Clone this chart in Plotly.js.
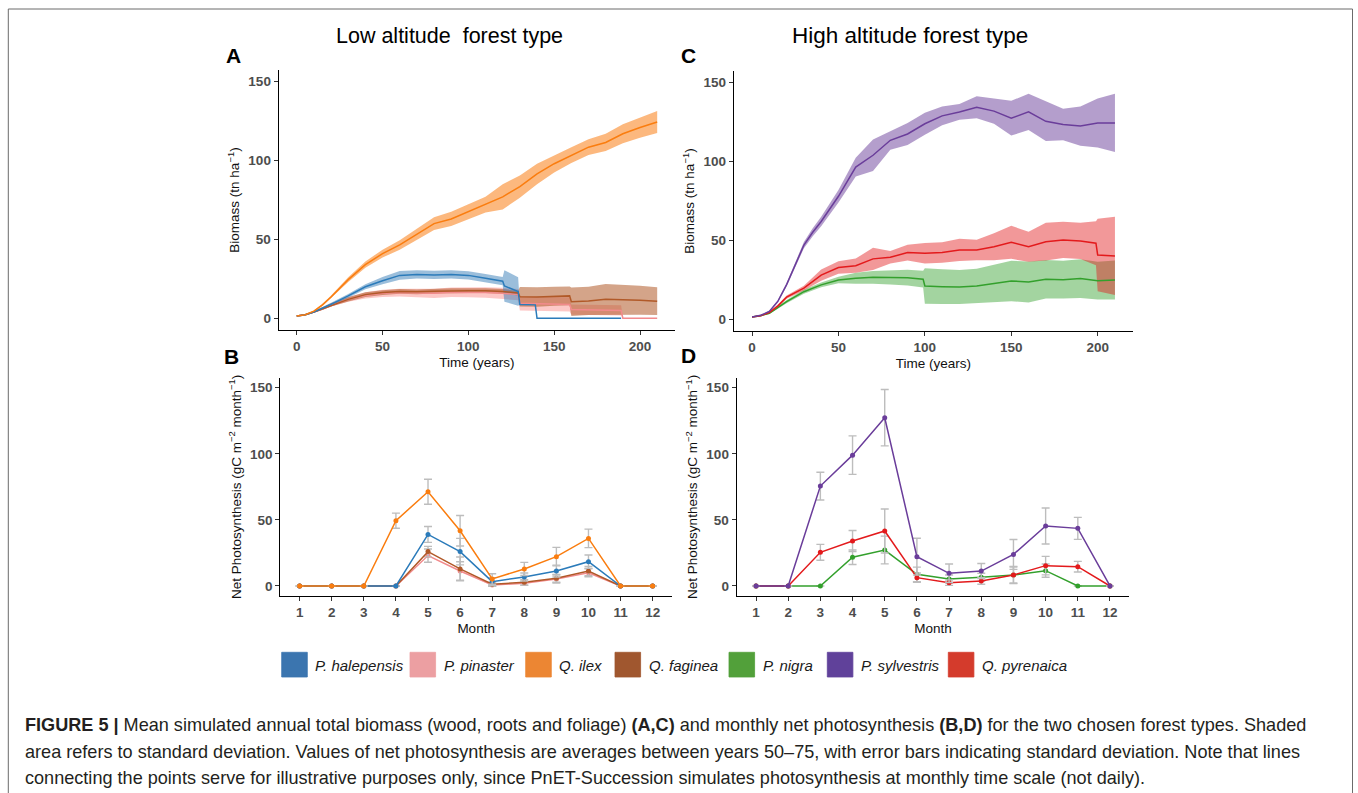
<!DOCTYPE html>
<html>
<head>
<meta charset="utf-8">
<script src="https://cdn.plot.ly/plotly-3.0.1.min.js"></script>
<style>html,body{margin:0;padding:0;background:#fff;}#chart{width:1358px;height:793px;}</style>
</head>
<body>
<div id="chart"></div>
<script>
// ---------- Panel A : low altitude biomass (tn/ha) ----------
const yearsIlex = [0,5,10,15,20,30,40,50,60,70,80,90,100,110,120,130,140,150,160,170,180,190,200,210];
const meanIlex  = [1.5,2.3,4.5,8.5,13.5,24.5,34,41,46.5,53,60,63,67.5,72,77,83.5,91.5,98,103.5,108.5,111.5,117,121,124.5];
const sdIlex    = [0.2,0.3,0.5,0.7,1,1.5,2,2.5,3,3.5,4,4.5,5,5,8,7,6.5,5.5,5,5,5.5,6,6.5,7];

const yearsHal = [0,5,10,15,20,30,40,50,60,70,80,90,100,110,120,121,129,130,139,140,150,160,170,180,189];
const meanHal  = [1.5,2.3,4,6.3,8.8,14.2,20,23.8,27.2,27.8,27.5,27.8,27.2,25.4,23.5,20.5,17,8.8,8.5,0,0,0,0,0,0];
const sdHal    = [0.2,0.3,0.5,0.7,1,1.2,1.6,2.3,2.8,2.6,2.6,2.6,2.6,2.6,2.6,10,9,0,0,0,0,0,0,0,0];

const yearsFag = [0,5,10,15,20,30,40,50,60,70,80,90,100,110,120,129,130,140,150,159,160,170,180,190,200,210];
const meanFag  = [1.5,2.3,4,6,8.5,12,15,16.3,17,16.8,17.2,17.5,17.5,17.5,17,16,13.7,13.5,14,14.2,10.5,11,12,11.8,11.5,10.8];
const sdFag    = [0.2,0.3,0.5,0.8,1,1.3,1.5,1.5,1.5,1.5,1.5,1.5,1.5,1.5,1.5,1.5,6.2,6.2,6,6,9,9,9.8,9.5,9.2,8.8];

const yearsPin = [0,5,10,15,20,30,40,50,60,70,80,90,100,110,120,129,130,140,150,159,160,170,180,189,190,200,210];
const meanPin  = [1.5,2.3,4,6,8.5,12,14.5,15.8,16.3,16,15.8,16.5,16.5,16.3,15.8,15,9.5,9.2,9,8.8,5.5,5.3,5.2,5,0,0,0];
const sdPin    = [0.2,0.3,0.5,0.8,1,1.5,2,2.3,2.5,2.8,3,3,3.2,3.3,3.5,3.5,4.5,4.5,4.5,4.5,3.2,3.2,3.2,3.2,0,0,0];

// ---------- Panel C : high altitude biomass (tn/ha) ----------
const yearsSyl = [0,5,10,15,20,25,30,35,40,50,60,70,80,90,100,110,120,130,140,150,160,170,180,190,200,210];
const meanSyl  = [1.5,2.5,5,11.5,22,34.5,47,55,62,78,96.5,104,113.5,117.5,124,129,131.5,134.5,132,127.5,131.5,125.5,123.5,122.5,124.5,124.5];
const sdSyl    = [0.2,0.3,0.5,0.8,1,1.5,2,2.5,3,4,6,10,6,7,7,6,5,7,8,11,11.5,12.5,10,12.5,15.5,18.5];

const yearsPyr = [0,5,10,15,20,30,40,50,60,70,80,90,100,110,120,130,140,150,160,170,180,190,199,200,210];
const meanPyr  = [1.5,2.3,4.2,8.5,14,19.7,28,32.8,34,38.3,39.3,42.3,41.8,42.3,44,44,46,48.8,46,49.2,50.3,49.7,48.2,40.8,40.2];
const sdPyr    = [0.2,0.3,0.5,0.8,1,1.5,3.5,4,4.5,7,4,5,6.5,6.5,7,6.5,8.5,10.5,9.5,12,11.5,11.5,14,23,24.8];

const yearsNig = [0,5,10,15,20,30,40,50,60,70,80,90,99,100,110,120,130,140,150,160,170,180,190,200,210];
const meanNig  = [1.5,2.3,3.8,7.5,11.2,17.5,21.8,24.9,26,26.6,26.6,26.4,25.4,21.1,20.7,20.5,21.1,22.8,24.3,23.7,25.4,25.1,25.8,24.5,24.9];
const sdNig    = [0.2,0.3,0.5,0.8,1,1.3,1.5,2,3.5,4,4.5,5,5.3,11.3,11,10.8,11,11.8,12.8,13,12.2,12,12.3,12,12.4];

// ---------- Panels B, D : monthly net photosynthesis ----------
const months = [1,2,3,4,5,6,7,8,9,10,11,12];
const npIlex   = [0,0,0,49.4,71.3,41.8,5.3,12.9,22.2,36,0,0];
const npIlexSd = [null,null,null,5.7,9.5,11.5,4,5,7,7,null,null];
const npHal    = [0,0,0,0,39,26,3.3,6.8,11.3,18.4,0,0];
const npHalSd  = [null,null,null,null,6,10,3,3,4.5,5,null,null];
const npFag    = [0,0,0,0,26,12.9,1.3,2.8,5.8,11.3,0,0];
const npFagSd  = [null,null,null,null,4,9,1.5,2,3,3.5,null,null];
const npPin    = [0,0,0,0,23,11.3,0.8,2,5.3,10,0,0];
const npPinSd  = [null,null,null,null,5,7,1,1.5,3,3,null,null];

const npSyl    = [0,0,75.6,99,127.3,22.2,9.6,11.3,23.9,45.4,43.6,0];
const npSylSd  = [null,null,10.5,14.6,21.3,13.9,7,5.7,11.3,13.6,8.3,null];
const npPyr    = [0,0,25.5,34,41.6,6.3,2.5,3.8,8.3,15.4,14.6,0];
const npPyrSd  = [null,null,6,8,16.6,3.5,2,2.5,6,7,4,null];
const npNig    = [0,0,0,21.7,27.2,8.8,5.3,6.6,8.3,11.6,0,0];
const npNigSd  = [null,null,null,5.5,10.5,5.5,3,3,6.5,5,null,null];

// ---------- legend / labels ----------
const speciesNames = ["P. halepensis","P. pinaster","Q. ilex","Q. faginea","P. nigra","P. sylvestris","Q. pyrenaica"];
const legendColors = ["#3B75AF","#EC9FA2","#EC8633","#A0572F","#52A03A","#60419A","#D43B2C"];
const yearTicks = [0,50,100,150,200];
const valueTicks = [0,50,100,150];

// styles
const col = {
  hal:{line:"#2B7BBA", fill:"rgba(55,126,184,0.5)"},
  pin:{line:"#F28A8C", fill:"rgba(251,154,153,0.55)"},
  ilex:{line:"#FA7D0F", fill:"rgba(250,125,20,0.55)"},
  fag:{line:"#B15928", fill:"rgba(177,89,40,0.55)"},
  nig:{line:"#33A02C", fill:"rgba(51,160,44,0.45)"},
  syl:{line:"#6A3D9A", fill:"rgba(106,61,154,0.5)"},
  pyr:{line:"#E31A1C", fill:"rgba(227,26,28,0.45)"}
};

function band(xs, m, s, c, xa, ya){
  const up = m.map((v,i)=>v+s[i]);
  const lo = m.map((v,i)=>Math.max(0,v-s[i]));
  return {x: xs.concat(xs.slice().reverse()), y: up.concat(lo.slice().reverse()),
    type:'scatter', mode:'lines', fill:'toself', fillcolor:c.fill, line:{width:0,color:c.fill},
    hoverinfo:'skip', xaxis:xa, yaxis:ya};
}
function meanLine(xs, m, c, xa, ya){
  return {x:xs, y:m, type:'scatter', mode:'lines', line:{color:c.line, width:1.5}, xaxis:xa, yaxis:ya};
}
function npLine(m, sd, c, xa, ya){
  return {x:months, y:m, type:'scatter', mode:'lines+markers',
    line:{color:c.line, width:1.5}, marker:{color:c.line, size:5},
    error_y:{type:'data', array:sd, visible:true, color:'#BDBDBD', thickness:1.4, width:4},
    xaxis:xa, yaxis:ya};
}

const traces = [
  band(yearsPin, meanPin, sdPin, col.pin, 'x','y'),
  band(yearsFag, meanFag, sdFag, col.fag, 'x','y'),
  band(yearsHal, meanHal, sdHal, col.hal, 'x','y'),
  band(yearsIlex, meanIlex, sdIlex, col.ilex, 'x','y'),
  meanLine(yearsPin, meanPin, col.pin, 'x','y'),
  meanLine(yearsFag, meanFag, col.fag, 'x','y'),
  meanLine(yearsHal, meanHal, col.hal, 'x','y'),
  meanLine(yearsIlex, meanIlex, col.ilex, 'x','y'),

  band(yearsNig, meanNig, sdNig, col.nig, 'x2','y2'),
  band(yearsPyr, meanPyr, sdPyr, col.pyr, 'x2','y2'),
  band(yearsSyl, meanSyl, sdSyl, col.syl, 'x2','y2'),
  meanLine(yearsNig, meanNig, col.nig, 'x2','y2'),
  meanLine(yearsPyr, meanPyr, col.pyr, 'x2','y2'),
  meanLine(yearsSyl, meanSyl, col.syl, 'x2','y2'),

  npLine(npPin, npPinSd, col.pin, 'x3','y3'),
  npLine(npFag, npFagSd, col.fag, 'x3','y3'),
  npLine(npHal, npHalSd, col.hal, 'x3','y3'),
  npLine(npIlex, npIlexSd, col.ilex, 'x3','y3'),

  npLine(npNig, npNigSd, col.nig, 'x4','y4'),
  npLine(npPyr, npPyrSd, col.pyr, 'x4','y4'),
  npLine(npSyl, npSylSd, col.syl, 'x4','y4')
];

const W = 1358, H = 793;
const px = v => v / W;
const py = v => 1 - v / H;
const FONT = "Liberation Sans, Arial, Helvetica, sans-serif";
const tickFont = {family:FONT, size:13.5, color:'#4D4D4D', weight:'bold'};
const titleFont = {family:FONT, size:13.5, color:'#111'};

function axis(dom, range, tv, title, standoff, anchor){
  return {domain:dom, range:range, tickvals:tv, ticktext:tv.map(String), showgrid:false, zeroline:false,
    showline:true, linecolor:'#000', linewidth:1.1, ticks:'outside', ticklen:4, tickwidth:1, tickcolor:'#333',
    tickfont:tickFont, anchor:anchor, fixedrange:true,
    title:{text:title, font:titleFont, standoff:standoff}};
}

const bioTitle = "Biomass (tn ha<sup>\u22121</sup>)";
const npTitle = "Net Photosynthesis (gC m<sup>\u22122</sup> month<sup>\u22121</sup>)";

const layout = {
  width:W, height:H, margin:{l:0,r:0,t:0,b:0}, paper_bgcolor:'#fff', plot_bgcolor:'rgba(0,0,0,0)',
  showlegend:false, font:{family:FONT},
  xaxis:  axis([px(278.7),px(675.2)], [-10.5,220.5], yearTicks, "Time (years)", 4, 'y'),
  yaxis:  axis([py(330.1),py(69.9)], [-7.5,157.5], valueTicks, bioTitle, 5, 'x'),
  xaxis2: axis([px(733.9),px(1133.1)], [-10.5,220.5], yearTicks, "Time (years)", 4, 'y2'),
  yaxis2: axis([py(331.1),py(70.9)], [-7.5,157.5], valueTicks, bioTitle, 5, 'x2'),
  xaxis3: axis([px(280.4),px(671.9)], [0.4,12.6], months, "Month", 4, 'y3'),
  yaxis3: axis([py(595.9),py(377.8)], [-7.5,157.5], valueTicks, npTitle, 5, 'x3'),
  xaxis4: axis([px(736.7),px(1129.3)], [0.4,12.6], months, "Month", 4, 'y4'),
  yaxis4: axis([py(595.9),py(377.8)], [-7.5,157.5], valueTicks, npTitle, 5, 'x4'),
  annotations:[], shapes:[]
};

// panel titles and letters
function ann(x, y, text, font, opts){
  return Object.assign({xref:'paper', yref:'paper', x:px(x), y:py(y), text:text, showarrow:false,
    font:font, xanchor:'center', yanchor:'middle'}, opts||{});
}
layout.annotations.push(ann(449, 36, "Low altitude\u00a0 forest type", {family:FONT, size:21.5, color:'#000'}));
layout.annotations.push(ann(910.5, 36, "High altitude forest type", {family:FONT, size:22.5, color:'#000'}));
const letterFont = {family:FONT, size:21, color:'#000', weight:'bold'};
layout.annotations.push(ann(233.3, 56, "A", letterFont));
layout.annotations.push(ann(231.7, 356, "B", letterFont));
layout.annotations.push(ann(688.3, 56, "C", letterFont));
layout.annotations.push(ann(688.3, 355.5, "D", letterFont));

// legend
const keyLeft = [281.7, 410, 525.7, 615, 729, 827.3, 948.3];
speciesNames.forEach((nm,i)=>{
  layout.shapes.push({type:'rect', xref:'paper', yref:'paper', x0:px(keyLeft[i]), x1:px(keyLeft[i]+25.6),
    y0:py(677), y1:py(652.3), fillcolor:legendColors[i], line:{width:0.8, color:legendColors[i]}});
  layout.annotations.push(ann(keyLeft[i]+31.5, 665, "<i>"+nm+"</i>", {family:FONT, size:15, color:'#1a1a1a'}, {xanchor:'left'}));
});

// caption
const capFont = {family:FONT, size:18.1, color:'#231F20'};
const capLines = [
  "<b>FIGURE 5 |</b> Mean simulated annual total biomass (wood, roots and foliage) <b>(A,C)</b> and monthly net photosynthesis <b>(B,D)</b> for the two chosen forest types. Shaded",
  "area refers to standard deviation. Values of net photosynthesis are averages between years 50\u201375, with error bars indicating standard deviation. Note that lines",
  "connecting the points serve for illustrative purposes only, since PnET-Succession simulates photosynthesis at monthly time scale (not daily)."
];
const capY = [725, 751.5, 778];
capLines.forEach((t,i)=>layout.annotations.push(ann(23, capY[i], t, capFont, {xanchor:'left', align:'left'})));

// outer frame
layout.shapes.push({type:'rect', xref:'paper', yref:'paper', x0:px(8.3), x1:px(1352.5), y0:-0.05, y1:py(9),
  line:{color:'#6b6b6b', width:1}, fillcolor:'rgba(0,0,0,0)'});

Plotly.newPlot('chart', traces, layout, {displayModeBar:false, staticPlot:true});
</script>
</body>
</html>
